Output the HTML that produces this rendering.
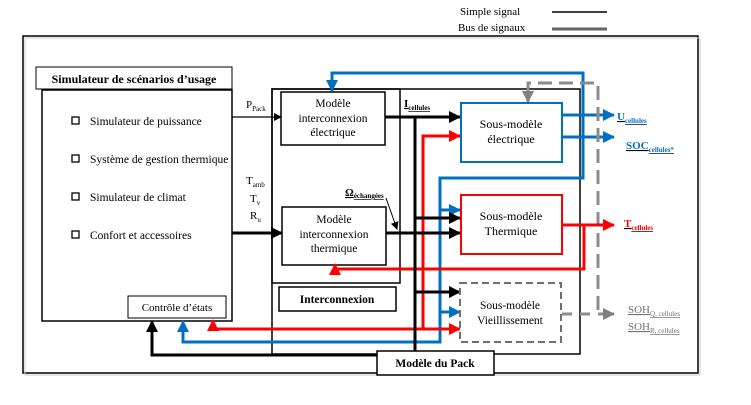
<!DOCTYPE html>
<html><head><meta charset="utf-8"><style>
body{margin:0;background:#fff}
svg{display:block;font-family:"Liberation Serif",serif}
</style></head><body>
<svg width="751" height="405" viewBox="0 0 751 405" xmlns="http://www.w3.org/2000/svg">
<defs>
<marker id="ak" markerWidth="8" markerHeight="8" refX="7" refY="4" orient="auto" markerUnits="userSpaceOnUse"><path d="M0,0 L8,4 L0,8Z" fill="#000"/></marker>
<marker id="akb" markerWidth="12" markerHeight="12" refX="11" refY="6" orient="auto" markerUnits="userSpaceOnUse"><path d="M0,0 L12,6 L0,12Z" fill="#000"/></marker>
<marker id="ab" markerWidth="12" markerHeight="12" refX="11" refY="6" orient="auto" markerUnits="userSpaceOnUse"><path d="M0,0 L12,6 L0,12Z" fill="#0070c0"/></marker>
<marker id="ar" markerWidth="12" markerHeight="12" refX="11" refY="6" orient="auto" markerUnits="userSpaceOnUse"><path d="M0,0 L12,6 L0,12Z" fill="#ff0000"/></marker>
<marker id="ag" markerWidth="12" markerHeight="12" refX="11" refY="6" orient="auto" markerUnits="userSpaceOnUse"><path d="M0,0 L12,6 L0,12Z" fill="#808080"/></marker>
</defs>
<!-- legend -->
<text x="460" y="15" font-size="11">Simple signal</text>
<text x="458" y="31" font-size="11">Bus de signaux</text>
<line x1="552" y1="12" x2="607" y2="12" stroke="#000" stroke-width="1.5"/>
<line x1="552" y1="29" x2="607" y2="29" stroke="#666" stroke-width="3"/>
<!-- outer frame -->
<rect x="23" y="36" width="675" height="337" fill="none" stroke="#000" stroke-width="1.5"/>
<rect x="25" y="38" width="675" height="337" fill="none" stroke="#ccc" stroke-width="1"/>
<!-- left -->
<rect x="36" y="67" width="196" height="22" fill="#fff" stroke="#000" stroke-width="1"/>
<text x="134" y="83" font-size="12" font-weight="bold" text-anchor="middle">Simulateur de scénarios d’usage</text>
<rect x="42" y="90" width="190" height="231" fill="#fff" stroke="#000" stroke-width="1.5"/>
<g font-size="11.5">
<rect x="72" y="117" width="7" height="7" fill="none" stroke="#000" stroke-width="1.3"/><text x="90" y="125">Simulateur de puissance</text>
<rect x="72" y="155" width="7" height="7" fill="none" stroke="#000" stroke-width="1.3"/><text x="90" y="163">Système de gestion thermique</text>
<rect x="72" y="193" width="7" height="7" fill="none" stroke="#000" stroke-width="1.3"/><text x="90" y="201">Simulateur de climat</text>
<rect x="72" y="231" width="7" height="7" fill="none" stroke="#000" stroke-width="1.3"/><text x="90" y="239">Confort et accessoires</text>
</g>
<rect x="128" y="296" width="98" height="22" fill="#fff" stroke="#000" stroke-width="1"/>
<text x="177" y="311" font-size="11" text-anchor="middle">Contrôle d’états</text>
<!-- pack boxes -->
<rect x="272" y="89" width="308" height="265" fill="none" stroke="#000" stroke-width="1.5"/>
<rect x="272" y="89" width="128" height="194" fill="none" stroke="#000" stroke-width="1.5"/>
<rect x="279" y="287" width="117" height="24" fill="#fff" stroke="#000" stroke-width="1.5"/>
<text x="337" y="303" font-size="11.5" font-weight="bold" text-anchor="middle">Interconnexion</text>
<rect x="281" y="92" width="104" height="53" fill="#fff" stroke="#000" stroke-width="1.5"/>
<text text-anchor="middle" font-size="11.5"><tspan x="333" y="107">Modèle</tspan><tspan x="333" y="122">interconnexion</tspan><tspan x="333" y="136">électrique</tspan></text>
<rect x="282" y="207" width="104" height="58" fill="#fff" stroke="#000" stroke-width="1.5"/>
<text text-anchor="middle" font-size="11.5"><tspan x="334" y="223">Modèle</tspan><tspan x="334" y="238">interconnexion</tspan><tspan x="334" y="252">thermique</tspan></text>
<!-- inputs -->
<line x1="232" y1="117" x2="281" y2="117" stroke="#000" stroke-width="1.3" marker-end="url(#ak)"/>
<line x1="232" y1="233" x2="282" y2="233" stroke="#000" stroke-width="3" marker-end="url(#akb)"/>
<text x="246" y="108" font-size="11">P<tspan font-size="7" dy="3">Pack</tspan></text>
<text x="246" y="184" font-size="11">T<tspan font-size="7" dy="3">amb</tspan></text>
<text x="250" y="202" font-size="11">T<tspan font-size="7" dy="3">v</tspan></text>
<text x="250" y="219" font-size="11">R<tspan font-size="7" dy="3">u</tspan></text>
<!-- blue loop -->
<g fill="none" stroke="#0070c0" stroke-width="3">
<polyline points="332,88 332,73 583,73 583,178 440,178 440,342 183,342 183,333"/>
<line x1="440" y1="210" x2="460" y2="210" marker-end="url(#ab)"/>
<line x1="440" y1="312" x2="460" y2="312" marker-end="url(#ab)"/>
<line x1="332" y1="80" x2="332" y2="91" marker-end="url(#ab)"/>
<line x1="183" y1="335" x2="183" y2="321" marker-end="url(#ab)"/>
<line x1="562" y1="115" x2="614" y2="115" marker-end="url(#ab)"/>
<line x1="562" y1="137" x2="614" y2="137" marker-end="url(#ab)"/>
</g>
<!-- gray dashed -->
<g fill="none" stroke="#8c8c8c" stroke-width="3">
<polyline points="528,94 528,83 598,83 598,315" stroke-dasharray="14,7"/>
<line x1="528" y1="88" x2="528" y2="102" marker-end="url(#ag)"/>
<line x1="562" y1="314" x2="612" y2="314" stroke-dasharray="10,8"/>
<line x1="600" y1="314" x2="614" y2="314" marker-end="url(#ag)"/>
</g>
<!-- red -->
<g fill="none" stroke="#ff0000" stroke-width="3">
<polyline points="460,136 423,136 423,329 213,329"/>
<line x1="445" y1="136" x2="460" y2="136" marker-end="url(#ar)"/>
<line x1="423" y1="329" x2="460" y2="329" marker-end="url(#ar)"/>
<line x1="220" y1="329" x2="213" y2="329"/>
<line x1="213" y1="331" x2="213" y2="320" marker-end="url(#ar)"/>
<line x1="562" y1="225" x2="614" y2="225" marker-end="url(#ar)"/>
<polyline points="584,225 584,269 335,269 335,266"/>
<line x1="335" y1="272" x2="335" y2="264" marker-end="url(#ar)"/>
</g>
<!-- black -->
<g fill="none" stroke="#000" stroke-width="3">
<line x1="385" y1="117" x2="460" y2="117" marker-end="url(#akb)"/>
<polyline points="415,117 415,355 152,355 152,330"/>
<line x1="152" y1="335" x2="152" y2="321" marker-end="url(#akb)"/>
<line x1="415" y1="218" x2="460" y2="218" marker-end="url(#akb)"/>
<line x1="386" y1="233" x2="460" y2="233" marker-end="url(#akb)"/>
<line x1="415" y1="292" x2="460" y2="292" marker-end="url(#akb)"/>
</g>
<line x1="386" y1="198" x2="397" y2="229" stroke="#000" stroke-width="1" marker-end="url(#ak)"/>
<text x="345" y="196" font-size="11" font-weight="bold" text-decoration="underline">Ω<tspan font-size="7" dy="2">échangées</tspan></text>
<text x="404" y="107" font-size="11" font-weight="bold" text-decoration="underline">I<tspan font-size="7" dy="3">cellules</tspan></text>
<!-- submodels -->
<rect x="461" y="103" width="101" height="59" fill="#fff" stroke="#0070c0" stroke-width="2"/>
<text text-anchor="middle" font-size="12"><tspan x="511" y="128">Sous-modèle</tspan><tspan x="511" y="143">électrique</tspan></text>
<rect x="461" y="195" width="101" height="59" fill="#fff" stroke="#ff0000" stroke-width="2"/>
<text text-anchor="middle" font-size="12"><tspan x="511" y="220">Sous-modèle</tspan><tspan x="511" y="235">Thermique</tspan></text>
<rect x="460" y="283" width="101" height="59" fill="#fff" stroke="#707070" stroke-width="2" stroke-dasharray="7,4"/>
<text text-anchor="middle" font-size="11.5"><tspan x="510" y="309">Sous-modèle</tspan><tspan x="510" y="324">Vieillissement</tspan></text>
<rect x="377" y="351" width="117" height="24" fill="#fff" stroke="#000" stroke-width="1.5"/>
<text x="435" y="367" font-size="11.5" font-weight="bold" text-anchor="middle">Modèle du Pack</text>
<!-- outputs -->
<g font-size="11" font-weight="bold" text-decoration="underline">
<text x="617" y="120" fill="#0070c0">U<tspan font-size="7" dy="3">cellules</tspan></text>
<text x="626" y="149" fill="#0070c0">SOC<tspan font-size="7" dy="3">cellules*</tspan></text>
<text x="624" y="227" fill="#ff0000">T<tspan font-size="7" dy="3">cellules</tspan></text>
</g>
<g font-size="11" fill="#707070" text-decoration="underline">
<text x="628" y="313">SOH<tspan font-size="7" dy="3">Q, cellules</tspan></text>
<text x="628" y="330">SOH<tspan font-size="7" dy="3">R, cellules</tspan></text>
</g>
</svg>
</body></html>
